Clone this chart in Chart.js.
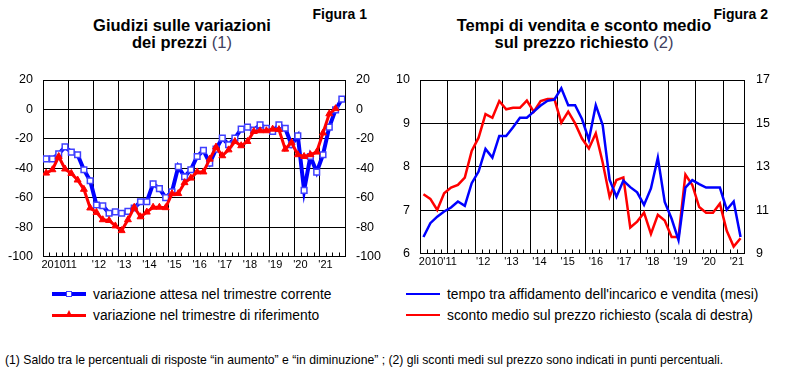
<!DOCTYPE html>
<html lang="it">
<head>
<meta charset="utf-8">
<title>Figure 1 e 2</title>
<script src="https://cdn.jsdelivr.net/npm/chart.js@4.4.1/dist/chart.umd.min.js"></script>
<style>
  html, body { margin: 0; padding: 0; background: #fff; }
  body { width: 790px; height: 388px; position: relative; overflow: hidden;
         font-family: "Liberation Sans", Arial, sans-serif; color: #000; }
  .title { position: absolute; top: 16.5px; width: 320px; text-align: center;
           font-weight: bold; font-size: 16.5px; line-height: 17.5px; }
  .title .note { font-weight: normal; color: #404060; }
  .fig { position: absolute; top: 6.5px; width: 80px; text-align: right;
         font-weight: bold; font-size: 14px; line-height: 14px; }
  .box { position: absolute; top: 60px; width: 395px; height: 215px; }
  .legend { position: absolute; top: 283.5px; font-size: 13.8px; }
  .legend .item { position: relative; height: 21px; line-height: 21px; white-space: nowrap; padding-left: 41px; }
  .legend .line { position: absolute; left: 0; width: 34px; }
  .legend .mark { position: absolute; }
  .foot { position: absolute; left: 5px; top: 353.4px; font-size: 12.2px; line-height: 14px; white-space: nowrap; }
</style>
</head>
<body>

<div class="fig" style="left:287px">Figura 1</div>
<div class="title" style="left:22px">Giudizi sulle variazioni<br>dei prezzi <span class="note">(1)</span></div>
<div class="fig" style="left:688px">Figura 2</div>
<div class="title" style="left:424px">Tempi di vendita e sconto medio<br>sul prezzo richiesto <span class="note">(2)</span></div>

<div class="box" style="left:0"><canvas id="fig1"></canvas></div>
<div class="box" style="left:395px"><canvas id="fig2"></canvas></div>

<div class="legend" id="legend1" style="left:52px"></div>
<div class="legend" id="legend2" style="left:406px"></div>

<div class="foot">(1) Saldo tra le percentuali di risposte “in aumento” e “in diminuzione” ; (2) gli sconti medi sul prezzo sono indicati in punti percentuali.</div>

<script>
// etichette degli anni sull'asse orizzontale
const yearLabels = ['2010', "'11", "'12", "'13", "'14", "'15", "'16", "'17", "'18", "'19", "'20", "'21"];

// Figura 1: saldi trimestrali
const attesa = [-33.6, -33.6, -30.2, -25.5, -29, -30.8, -41, -48.5, -65, -65.5, -70.6, -69.7,
  -70.6, -69.3, -67, -62.8, -62.8, -50.6, -53.9, -60, -56, -39, -45.8, -41,
  -32, -27.9, -36.5, -27, -19.5, -24, -19.5, -13.4, -12, -14, -10.5, -12.8,
  -15, -10.5, -12.8, -24, -18, -55, -32, -42.6, -30.8, -12, -0.3, 7];
const riferimento = [-43.3, -41, -32, -40.5, -43.5, -48, -54.3, -67, -70, -75, -75.5, -79.2,
  -82.4, -75, -66.5, -73, -69.8, -66.5, -66.5, -66.8, -57.3, -57.2, -49.8, -46.7,
  -42.5, -42.5, -33.8, -25.6, -31.5, -27.5, -21.8, -24.7, -21.8, -15, -14.5, -14.5,
  -13.4, -13.7, -27, -22.5, -30.8, -32, -30.8, -29, -16, -3, 0.5];

// Figura 2: mesi (scala sinistra) e sconto % (scala destra)
const tempoVendita = [6.38, 6.7, 6.85, 6.97, 7.06, 7.2, 7.1, 7.62, 7.89, 8.41, 8.21, 8.71,
  8.71, 8.91, 9.13, 9.13, 9.27, 9.41, 9.52, 9.55, 9.81, 9.42, 9.42, 9.1,
  8.62, 9.42, 8.96, 7.7, 7.31, 7.68, 7.53, 7.41, 7.12, 7.5, 8.21, 7.19,
  6.8, 6.31, 7.52, 7.69, 7.6, 7.52, 7.52, 7.52, 7.01, 7.2, 6.38];
const scontoMedio = [11.73, 11.52, 11.01, 11.78, 12.04, 12.16, 12.5, 13.73, 14.34, 15.43, 15.26, 16.03,
  15.65, 15.72, 15.72, 16.05, 15.54, 16.03, 16.12, 16.12, 15.03, 15.54, 15.0, 14.3,
  13.84, 14.54, 13.2, 11.62, 12.39, 12.51, 10.2, 10.47, 10.88, 9.9, 10.78, 10.52,
  9.76, 9.76, 12.64, 12.16, 11.14, 10.88, 10.88, 11.3, 10.05, 9.32, 9.7];

Chart.defaults.font.family = '"Liberation Sans", Arial, sans-serif';
Chart.defaults.color = '#000';

const toPoints = arr => arr.map((v, i) => ({ x: i + 0.5, y: v }));

// piccole tacche trimestrali sul bordo inferiore
const quarterTicks = {
  id: 'quarterTicks',
  afterDraw(chart) {
    const x = chart.scales.x, b = chart.chartArea.bottom, ctx = chart.ctx;
    ctx.save();
    ctx.strokeStyle = '#000';
    ctx.lineWidth = 1;
    ctx.beginPath();
    for (let q = 1; q < x.max; q++) {
      if (q % 4 === 0) continue;
      const px = Math.round(x.getPixelForValue(q)) + 0.5;
      ctx.moveTo(px, b);
      ctx.lineTo(px, b - 4);
    }
    ctx.stroke();
    ctx.restore();
  }
};

function gridAxis(n) {
  return {
    type: 'linear', min: 0, max: n,
    afterBuildTicks: s => { s.ticks = []; for (let v = 0; v <= n; v += 4) s.ticks.push({ value: v }); },
    afterFit: s => { s.height = 0; },
    grid: { color: '#000', drawTicks: false },
    border: { color: '#000' },
    ticks: { display: false }
  };
}

function labelAxis(n, positions, h) {
  return {
    type: 'linear', position: 'bottom', min: 0, max: n,
    afterBuildTicks: s => { s.ticks = positions.map(v => ({ value: v })); },
    afterFit: s => { s.height = h; },
    grid: { display: false, drawTicks: false },
    border: { display: false },
    ticks: { autoSkip: false, maxRotation: 0, padding: 2, font: { size: 11 },
             callback: (v, i) => yearLabels[i] }
  };
}

function valueAxis(pos, min, max, step, width, pad, showGrid) {
  return {
    position: pos, min: min, max: max,
    afterFit: s => { s.width = width; },
    grid: { display: showGrid, color: '#000', drawTicks: false },
    border: { color: '#000' },
    ticks: { stepSize: step, padding: pad, font: { size: 12.5 } }
  };
}

const baseOptions = {
  responsive: true,
  maintainAspectRatio: false,
  animation: false,
  devicePixelRatio: 1,
  layout: { padding: { top: 20, left: 0, right: 0, bottom: 0 } },
  plugins: { legend: { display: false }, tooltip: { enabled: false } },
  elements: { line: { tension: 0 } }
};

const pos1 = yearLabels.map((_, i) => i === 0 ? 1.7 : i === 1 ? 4.3 : 8.9 + 4 * (i - 2));
const chart1 = new Chart(document.getElementById('fig1'), {
  type: 'line',
  data: {
    datasets: [
      { label: 'variazione attesa nel trimestre corrente', data: toPoints(attesa), order: 1,
        borderColor: '#0000ff', borderWidth: 4, pointStyle: 'rect', pointRadius: 4,
        pointBorderWidth: 1.5, pointBorderColor: '#3f3fff', pointBackgroundColor: '#fff' },
      { label: 'variazione nel trimestre di riferimento', data: toPoints(riferimento), order: 0,
        borderColor: '#ff0000', borderWidth: 3, pointStyle: 'triangle', pointRadius: 4,
        pointBorderWidth: 1, pointBorderColor: '#ff0000', pointBackgroundColor: '#ff0000' }
    ]
  },
  options: Object.assign({}, baseOptions, {
    scales: {
      x: gridAxis(48),
      xl: labelAxis(48, pos1, 18),
      y: valueAxis('left', -100, 20, 20, 43, 10, true),
      y2: valueAxis('right', -100, 20, 20, 50, 11, false)
    }
  }),
  plugins: [quarterTicks]
});

const pos2 = yearLabels.map((_, i) => i === 0 ? 1.6 : i === 1 ? 4.36 : 9.16 + 4.09 * (i - 2));
const chart2 = new Chart(document.getElementById('fig2'), {
  type: 'line',
  data: {
    datasets: [
      { label: "tempo tra affidamento dell'incarico e vendita (mesi)", data: toPoints(tempoVendita),
        borderColor: '#0000ff', borderWidth: 2.5, pointRadius: 0, yAxisID: 'y' },
      { label: 'sconto medio sul prezzo richiesto (scala di destra)', data: toPoints(scontoMedio),
        borderColor: '#ff0000', borderWidth: 2.5, pointRadius: 0, yAxisID: 'y2' }
    ]
  },
  options: Object.assign({}, baseOptions, {
    scales: {
      x: gridAxis(47),
      xl: labelAxis(47, pos2, 21.5),
      y: valueAxis('left', 6, 10, 1, 25, 10, true),
      y2: valueAxis('right', 9, 17, 2, 46, 12, false)
    }
  }),
  plugins: [quarterTicks]
});

// legenda HTML costruita dalle serie del grafico
function renderLegend(chart, id) {
  const box = document.getElementById(id);
  chart.data.datasets.forEach(ds => {
    const item = document.createElement('div');
    item.className = 'item';
    const line = document.createElement('span');
    line.className = 'line';
    line.style.height = ds.borderWidth + 'px';
    line.style.top = (10.5 - ds.borderWidth / 2) + 'px';
    line.style.background = ds.borderColor;
    item.appendChild(line);
    if (ds.pointRadius > 0) {
      const m = document.createElement('span');
      m.className = 'mark';
      if (ds.pointStyle === 'rect') {
        Object.assign(m.style, { left: '14px', top: '7px', width: '4px', height: '4px',
          background: '#fff', border: '1.5px solid ' + ds.pointBorderColor });
      } else {
        Object.assign(m.style, { left: '14px', top: '5px', width: '0', height: '0',
          borderLeft: '3.5px solid transparent', borderRight: '3.5px solid transparent',
          borderBottom: '6px solid ' + ds.pointBackgroundColor });
      }
      item.appendChild(m);
    }
    item.appendChild(document.createTextNode(ds.label));
    box.appendChild(item);
  });
}
renderLegend(chart1, 'legend1');
renderLegend(chart2, 'legend2');
</script>
</body>
</html>
